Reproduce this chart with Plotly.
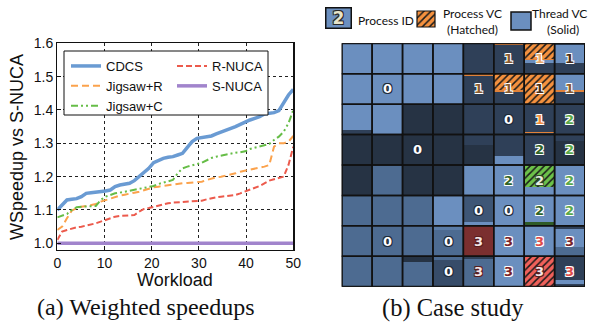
import plotly.graph_objects as go

# ---------------- data: (a) weighted speedups ----------------
workload = [i * 50 / 49 for i in range(50)]
cdcs = [1.100, 1.115, 1.130, 1.132, 1.134, 1.140, 1.150, 1.152, 1.153, 1.155,
        1.157, 1.160, 1.170, 1.175, 1.177, 1.180, 1.188, 1.200, 1.212, 1.225,
        1.242, 1.250, 1.255, 1.258, 1.260, 1.265, 1.270, 1.288, 1.305, 1.315,
        1.318, 1.320, 1.322, 1.328, 1.333, 1.338, 1.343, 1.350, 1.357, 1.365,
        1.370, 1.375, 1.380, 1.388, 1.390, 1.392, 1.398, 1.420, 1.445, 1.462]
jigsaw_r = [1.040, 1.050, 1.075, 1.098, 1.105, 1.110, 1.112, 1.115, 1.118, 1.125,
            1.130, 1.135, 1.140, 1.143, 1.146, 1.150, 1.152, 1.155, 1.160, 1.165,
            1.168, 1.170, 1.172, 1.175, 1.178, 1.180, 1.180, 1.181, 1.182, 1.183,
            1.185, 1.190, 1.195, 1.198, 1.200, 1.203, 1.207, 1.210, 1.215, 1.218,
            1.220, 1.223, 1.227, 1.230, 1.235, 1.290, 1.300, 1.300, 1.305, 1.322]
jigsaw_c = [1.078, 1.082, 1.088, 1.100, 1.108, 1.110, 1.110, 1.110, 1.112, 1.130,
            1.140, 1.145, 1.150, 1.152, 1.155, 1.158, 1.160, 1.163, 1.167, 1.170,
            1.172, 1.178, 1.182, 1.186, 1.190, 1.210, 1.225, 1.230, 1.235, 1.238,
            1.242, 1.250, 1.256, 1.260, 1.263, 1.267, 1.270, 1.272, 1.273, 1.276,
            1.283, 1.287, 1.290, 1.294, 1.298, 1.310, 1.320, 1.335, 1.360, 1.400]
r_nuca = [1.010, 1.035, 1.040, 1.045, 1.048, 1.050, 1.053, 1.056, 1.060, 1.065,
          1.070, 1.075, 1.080, 1.082, 1.083, 1.084, 1.085, 1.095, 1.103, 1.106,
          1.110, 1.113, 1.117, 1.120, 1.122, 1.123, 1.124, 1.125, 1.126, 1.127,
          1.128, 1.132, 1.136, 1.138, 1.140, 1.141, 1.142, 1.145, 1.150, 1.155,
          1.160, 1.165, 1.172, 1.180, 1.188, 1.192, 1.195, 1.200, 1.235, 1.290]
s_nuca = [1.0] * 50
y_ticks = [1.0, 1.1, 1.2, 1.3, 1.4, 1.5, 1.6]
x_ticks = [0, 10, 20, 30, 40, 50]

# ---------------- data: (b) case study (8x8 tiles) ----------------
# each cell: segments from top to bottom as (code, fraction of tile height)
cells = [
    [[("L", 1)], [("L", 1)], [("L", 1)], [("L", 1)], [("D", 1)],
     [("O", 0.07), ("D", 0.93)],
     [("OH", 0.5), ("O", 0.04), ("L", 0.1), ("D", 0.36)],
     [("D", 0.05), ("L", 0.6), ("D", 0.35)]],
    [[("L", 1)], [("L", 1)], [("L", 1)], [("L", 1)],
     [("O", 0.06), ("D", 0.94)],
     [("OH", 0.55), ("O", 0.04), ("D", 0.41)],
     [("OH", 1)],
     [("L", 0.55), ("O", 0.06), ("D", 0.39)]],
    [[("L", 0.84), ("D", 0.16)], [("L", 1)], [("K", 1)], [("K", 1)], [("D", 1)],
     [("D", 1)], [("D", 0.9), ("O", 0.06), ("D", 0.04)], [("D", 1)]],
    [[("K", 1)], [("K", 1)], [("K", 1)], [("K", 1)],
     [("D", 0.33), ("K", 0.67)], [("D", 0.72), ("L", 0.28)], [("D", 1)],
     [("D", 0.2), ("K", 0.8)]],
    [[("K", 1)], [("M", 1)], [("K", 1)], [("K", 1)], [("L", 1)], [("L", 1)],
     [("GH", 0.72), ("L", 0.28)], [("L", 1)]],
    [[("M", 1)], [("M", 1)], [("M", 1)], [("L", 1)],
     [("S", 0.88), ("L", 0.12)], [("L", 1)], [("L", 0.88), ("G", 0.12)], [("L", 1)]],
    [[("M", 1)], [("M", 1)], [("M", 1)], [("B", 0.13), ("M", 0.87)], [("R", 1)],
     [("L", 1)], [("L", 1)], [("D", 0.1), ("L", 0.6), ("M", 0.3)]],
    [[("M", 1)], [("M", 1)], [("K", 0.18), ("M", 0.82)], [("M", 0.12), ("S2", 0.88)],
     [("D", 0.08), ("M", 0.92)], [("L", 1)], [("RH", 1)],
     [("D", 0.78), ("L", 0.14), ("D", 0.08)]],
]
# process-ID labels: (row, col, text, style)
labels = [
    (0, 5, "1", "brown"), (0, 6, "1", "tan"), (0, 7, "1", "darkbrown"),
    (1, 1, "0", "white"), (1, 4, "1", "brown"), (1, 5, "1", "brown"),
    (1, 6, "1", "darkbrown"), (1, 7, "1", "brown"),
    (2, 5, "0", "white"), (2, 6, "1", "orange"), (2, 7, "2", "green"),
    (3, 2, "0", "white"), (3, 6, "2", "darkgreen"), (3, 7, "2", "green"),
    (4, 5, "2", "darkgreen"), (4, 6, "2", "paleg"), (4, 7, "2", "green"),
    (5, 4, "0", "white"), (5, 5, "0", "white"), (5, 6, "2", "darkgreen"), (5, 7, "2", "green"),
    (6, 1, "0", "white"), (6, 3, "0", "white"), (6, 4, "3", "palered"),
    (6, 5, "3", "darkred"), (6, 6, "3", "red"), (6, 7, "3", "darkred"),
    (7, 3, "0", "white"), (7, 4, "3", "palered"), (7, 5, "3", "darkred"),
    (7, 6, "3", "palered"), (7, 7, "3", "red"),
]

# ---------------- styles ----------------
W, H = 594, 322
def fx(p):
    return p / W
def fy(p):
    return 1 - p / H

solid = {"L": "#6b8fbf", "M": "#4d6b91", "D": "#2f4058", "K": "#263344",
         "S": "#3e5676", "S2": "#374c69", "B": "#5a7ca7", "O": "#e0823a",
         "G": "#2f5b27", "R": "#7b2f2f"}
hatched = {"OH": "#f5913e", "GH": "#6cc24a", "RH": "#f0605a"}
label_style = {
    "white": ("#ffffff", "#1e2a3a"), "brown": ("#8a5a2c", "#ffffff"),
    "tan": ("#e9a868", "#ffffff"), "darkbrown": ("#4a2e18", "#ffffff"),
    "orange": ("#f08c3c", "#ffffff"), "green": ("#5aa848", "#ffffff"),
    "darkgreen": ("#2f6428", "#ffffff"), "paleg": ("#e8eee0", "#2f4a28"),
    "red": ("#e04a48", "#ffffff"), "darkred": ("#7a2228", "#ffffff"),
    "palered": ("#f4e6e6", "#5a1c1c"),
}

def outline(c):
    return f"-1px -1px 0 {c}, 1px -1px 0 {c}, -1px 1px 0 {c}, 1px 1px 0 {c}"

fig = go.Figure()

series = [
    ("CDCS", cdcs, dict(color="#6a9bd3", width=3.5), "legend"),
    ("Jigsaw+R", jigsaw_r, dict(color="#fba24c", width=2, dash="7px,4px"), "legend"),
    ("Jigsaw+C", jigsaw_c, dict(color="#66bd47", width=2, dash="7px,3px,2px,3px,2px,3px"), "legend"),
    ("R-NUCA", r_nuca, dict(color="#ec5a4c", width=2, dash="6px,3px"), "legend2"),
    ("S-NUCA", s_nuca, dict(color="#a184cc", width=3.5), "legend2"),
]
for name, ys, line, lg in series:
    fig.add_trace(go.Scatter(x=workload, y=ys, mode="lines", name=name, line=line,
                             legend=lg, xaxis="x", yaxis="y"))

# tiles as stacked bar segments
groups = {}
for r, row in enumerate(cells):
    for c, segs in enumerate(row):
        top = 0.0
        for code, frac in segs:
            g = groups.setdefault(code, ([], [], []))
            g[0].append(c + 0.5)
            g[1].append(r + top)
            g[2].append(frac)
            top += frac
for code, (xs, bs, hs) in groups.items():
    if code in solid:
        marker = dict(color=solid[code], line=dict(width=0))
    else:
        marker = dict(color=hatched[code], line=dict(width=0),
                      pattern=dict(shape="/", fgcolor="#1a1a1a", bgcolor=hatched[code],
                                   size=5, solidity=0.3, fillmode="replace"))
    fig.add_trace(go.Bar(x=xs, y=hs, base=bs, width=1, marker=marker, showlegend=False,
                         hoverinfo="skip", xaxis="x2", yaxis="y2"))
# tile outlines
ox = [c + 0.5 for r in range(len(cells)) for c in range(len(cells[r]))]
ob = [r for r in range(len(cells)) for c in range(len(cells[r]))]
fig.add_trace(go.Bar(x=ox, y=[1] * len(ox), base=ob, width=1,
                     marker=dict(color="rgba(0,0,0,0)", line=dict(color="#111111", width=1.5)),
                     showlegend=False, hoverinfo="skip", xaxis="x2", yaxis="y2"))

# hatched legend icon
fig.add_trace(go.Bar(x=[0.5], y=[1], width=1, showlegend=False, hoverinfo="skip",
                     marker=dict(color=hatched["OH"], line=dict(width=0),
                                 pattern=dict(shape="/", fgcolor="#1a1a1a", bgcolor=hatched["OH"],
                                              size=5, solidity=0.3, fillmode="replace")),
                     xaxis="x3", yaxis="y3"))

ann = []
for r, c, t, st in labels:
    fill, ol = label_style[st]
    ann.append(dict(x=c + 0.5, y=r + 0.5, xref="x2", yref="y2", text=t, showarrow=False,
                    xanchor="center", yanchor="middle",
                    font=dict(family="DejaVu Sans", size=13, color=fill, weight="bold",
                              shadow=outline(ol))))

sans = "Liberation Sans"
serif = "Liberation Serif"
def txt(x, y, text, size, family, anchor="center", **kw):
    d = dict(x=fx(x), y=fy(y), xref="paper", yref="paper", text=text, showarrow=False,
             xanchor=anchor, yanchor="middle",
             font=dict(family=family, size=size, color="#111"))
    d.update(kw)
    return d

ann += [
    txt(17, 147, "WSpeedup vs S-NUCA", 18, sans, textangle=-90),
    txt(175, 280, "Workload", 18, sans),
    txt(146, 307, "(a) Weighted speedups", 24, serif),
    txt(453, 308, "(b) Case study", 24.5, serif),
    dict(x=fx(338), y=fy(18.5), xref="paper", yref="paper", text="2", showarrow=False,
         xanchor="center", yanchor="middle",
         width=24, height=19, borderpad=0, bgcolor=solid["L"], bordercolor="#111",
         borderwidth=1.5,
         font=dict(family="DejaVu Sans", size=17, color="#e8e4c8", weight="bold",
                   shadow=outline("#2a2a2a"))),
    txt(356, 21, "Process ID", 12, "Lato", anchor="left"),
    txt(472, 13, "Process VC", 12, "Lato"),
    txt(472, 30, "(Hatched)", 12, "Lato"),
    txt(559, 13, "Thread VC", 12, "Lato"),
    txt(563, 30, "(Solid)", 12, "Lato"),
]

shapes = [
    dict(type="rect", xref="paper", yref="paper", x0=fx(64), x1=fx(268), y0=fy(115), y1=fy(51),
         line=dict(color="#111", width=1), fillcolor="white", layer="above"),
    dict(type="rect", xref="x2", yref="y2", x0=0, x1=8, y0=0, y1=8,
         line=dict(color="#111", width=2), layer="above"),
    dict(type="rect", xref="x3 domain", yref="y3 domain", x0=0, x1=1, y0=0, y1=1,
         line=dict(color="#111", width=1.2), layer="above"),
    dict(type="rect", xref="paper", yref="paper", x0=fx(511), x1=fx(531), y0=fy(30), y1=fy(12),
         line=dict(color="#111", width=1.5), fillcolor=solid["L"]),
]

axis_common = dict(showline=True, linecolor="#111", linewidth=1.2, mirror=True,
                   ticks="inside", ticklen=4, tickcolor="#111", showgrid=True,
                   gridcolor="#222", griddash="dot", gridwidth=1, zeroline=False,
                   automargin=False,
                   tickfont=dict(family=sans, size=14, color="#111"))
blank = dict(visible=False, showgrid=False, zeroline=False, fixedrange=True, automargin=False)

fig.update_layout(
    width=W, height=H, margin=dict(l=0, r=0, t=0, b=0, pad=0, autoexpand=False),
    paper_bgcolor="white", plot_bgcolor="white", barmode="overlay", bargap=0,
    xaxis=dict(domain=[fx(57.3), fx(293.3)], range=[0, 50], tickvals=x_ticks,
               anchor="y", **axis_common),
    yaxis=dict(domain=[fy(250), fy(43.3)], range=[0.98, 1.6], tickvals=y_ticks,
               tickformat=".1f", anchor="x", **axis_common),
    xaxis2=dict(domain=[fx(341.7), fx(585)], range=[0, 8], anchor="y2", **blank),
    yaxis2=dict(domain=[fy(286.7), fy(43.3)], range=[8, 0], anchor="x2", **blank),
    xaxis3=dict(domain=[fx(417), fx(435)], range=[0, 1], anchor="y3", **blank),
    yaxis3=dict(domain=[fy(27), fy(11)], range=[0, 1], anchor="x3", **blank),
    legend=dict(x=fx(66), y=fy(51), xanchor="left", yanchor="top", bgcolor="rgba(0,0,0,0)",
                borderwidth=0, font=dict(family=sans, size=13, color="#111"),
                tracegroupgap=0),
    legend2=dict(x=fx(172), y=fy(51), xanchor="left", yanchor="top", bgcolor="rgba(0,0,0,0)",
                 borderwidth=0, font=dict(family=sans, size=13, color="#111"),
                 tracegroupgap=0),
    annotations=ann, shapes=shapes,
)

fig.write_html(
    "out.html",
    config={"displayModeBar": False, "staticPlot": True},
    post_script="document.body.style.margin='0';document.body.style.overflow='hidden';",
)
